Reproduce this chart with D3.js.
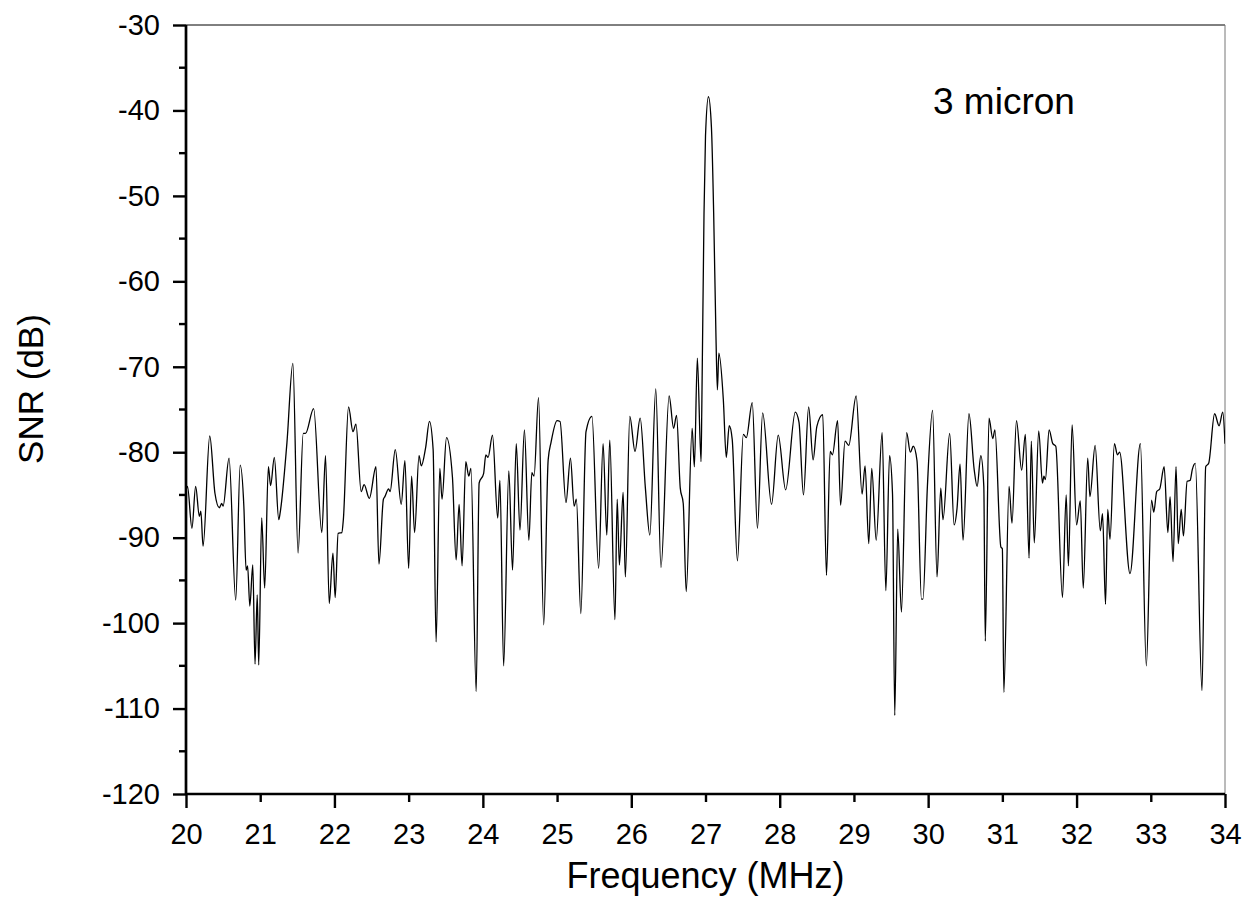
<!DOCTYPE html>
<html>
<head>
<meta charset="utf-8">
<script src="https://cdn.jsdelivr.net/npm/d3@7"></script>
<style>
  body { margin: 0; background: #fff; }
  svg { font-family: "Liberation Sans", Arial, sans-serif; }
</style>
</head>
<body>
<svg id="chart" width="1247" height="915"></svg>
<script>
// frequency (MHz) and SNR (dB)
const freq = [
  20.00, 20.02, 20.08, 20.13, 20.18, 20.20, 20.23, 20.32, 20.39, 20.45, 20.48, 20.50,
  20.58, 20.67, 20.73, 20.78, 20.81, 20.83, 20.86, 20.90, 20.93, 20.96, 20.98, 21.02,
  21.06, 21.11, 21.14, 21.19, 21.25, 21.27, 21.36, 21.44, 21.51, 21.58, 21.61, 21.72,
  21.83, 21.88, 21.93, 21.98, 22.01, 22.05, 22.10, 22.12, 22.19, 22.25, 22.29, 22.36,
  22.40, 22.47, 22.56, 22.60, 22.66, 22.68, 22.73, 22.75, 22.82, 22.90, 22.95, 23.00,
  23.04, 23.08, 23.14, 23.17, 23.23, 23.28, 23.33, 23.37, 23.42, 23.45, 23.51, 23.59,
  23.64, 23.68, 23.72, 23.77, 23.81, 23.84, 23.91, 23.95, 24.01, 24.04, 24.07, 24.13,
  24.20, 24.23, 24.28, 24.35, 24.40, 24.45, 24.50, 24.56, 24.62, 24.66, 24.69, 24.75,
  24.82, 24.88, 24.92, 25.00, 25.04, 25.12, 25.18, 25.23, 25.26, 25.32, 25.39, 25.47,
  25.56, 25.62, 25.67, 25.71, 25.78, 25.81, 25.84, 25.89, 25.92, 25.98, 26.05, 26.12,
  26.19, 26.25, 26.33, 26.40, 26.51, 26.57, 26.61, 26.66, 26.70, 26.74, 26.82, 26.85,
  26.89, 26.94, 26.95, 26.98, 27.00, 27.04, 27.08, 27.11, 27.14, 27.16, 27.18, 27.24,
  27.28, 27.32, 27.36, 27.43, 27.51, 27.55, 27.63, 27.70, 27.77, 27.89, 27.98, 28.08,
  28.21, 28.26, 28.32, 28.39, 28.45, 28.50, 28.58, 28.63, 28.68, 28.71, 28.78, 28.82,
  28.88, 28.93, 29.03, 29.11, 29.15, 29.20, 29.24, 29.30, 29.38, 29.43, 29.48, 29.52,
  29.55, 29.59, 29.64, 29.71, 29.76, 29.80, 29.85, 29.91, 29.93, 29.99, 30.06, 30.12,
  30.17, 30.20, 30.29, 30.35, 30.39, 30.43, 30.47, 30.55, 30.62, 30.66, 30.71, 30.75,
  30.77, 30.82, 30.87, 30.90, 30.98, 31.00, 31.02, 31.09, 31.13, 31.19, 31.26, 31.31,
  31.36, 31.39, 31.43, 31.49, 31.54, 31.56, 31.58, 31.63, 31.68, 31.72, 31.81, 31.86,
  31.89, 31.94, 32.00, 32.05, 32.09, 32.15, 32.18, 32.25, 32.32, 32.35, 32.39, 32.42,
  32.45, 32.51, 32.55, 32.58, 32.72, 32.86, 32.94, 33.01, 33.04, 33.08, 33.12, 33.18,
  33.23, 33.26, 33.30, 33.34, 33.37, 33.41, 33.44, 33.49, 33.53, 33.56, 33.60, 33.69,
  33.74, 33.78, 33.86, 33.92, 33.97, 34.00
];
const snr = [
  -84.5, -84.0, -88.9, -84.0, -87.5, -86.9, -91.0, -78.1, -84.8, -86.5, -86.0, -86.3,
  -80.7, -97.3, -81.5, -86.4, -93.8, -93.3, -98.0, -93.2, -104.8, -96.7, -104.9, -87.7,
  -95.9, -81.7, -83.9, -80.6, -87.9, -87.0, -78.9, -69.6, -91.8, -77.8, -77.8, -74.9,
  -89.4, -80.4, -97.7, -91.8, -97.0, -89.5, -89.4, -87.9, -74.7, -77.6, -76.7, -84.6,
  -83.8, -85.4, -81.7, -93.1, -85.5, -85.2, -84.3, -84.6, -79.7, -86.1, -81.0, -93.6,
  -82.8, -89.4, -80.4, -81.6, -79.4, -76.4, -79.7, -102.2, -81.9, -85.5, -78.3, -82.9,
  -92.6, -86.1, -93.3, -81.1, -82.8, -81.9, -108.0, -83.6, -82.5, -80.3, -80.6, -78.0,
  -87.7, -83.3, -105.0, -82.2, -93.8, -79.0, -89.1, -77.4, -90.3, -82.4, -82.8, -73.6,
  -100.2, -80.9, -78.8, -76.3, -76.4, -85.9, -80.7, -86.3, -85.5, -98.9, -77.6, -75.8,
  -93.6, -79.0, -89.7, -78.6, -99.6, -85.5, -93.2, -84.7, -94.6, -75.8, -79.9, -76.0,
  -84.2, -89.7, -72.6, -93.5, -73.4, -77.2, -75.7, -84.2, -86.0, -96.3, -77.2, -81.7,
  -69.0, -81.1, -75.0, -52.0, -43.0, -38.4, -42.0, -52.0, -66.0, -72.7, -68.4, -73.8,
  -80.6, -76.9, -78.5, -92.7, -77.9, -78.3, -74.2, -88.9, -75.4, -86.1, -78.0, -84.4,
  -75.3, -76.5, -85.0, -74.7, -80.9, -77.0, -75.6, -94.4, -79.9, -80.3, -76.3, -86.2,
  -78.7, -79.2, -73.4, -84.9, -81.6, -90.7, -81.9, -90.3, -77.7, -96.2, -80.4, -84.9,
  -110.8, -89.0, -98.7, -77.7, -80.0, -79.3, -81.0, -97.2, -97.2, -84.0, -75.1, -94.6,
  -84.2, -87.9, -77.8, -88.5, -86.5, -81.4, -90.3, -75.5, -82.0, -84.0, -80.4, -84.0,
  -102.1, -76.0, -78.4, -77.4, -91.1, -91.3, -108.1, -84.0, -88.3, -76.3, -82.1, -77.9,
  -92.4, -78.7, -90.6, -77.5, -83.6, -82.8, -83.2, -77.4, -79.0, -79.3, -97.0, -85.0,
  -93.3, -76.8, -88.5, -85.7, -95.9, -80.7, -85.2, -79.2, -89.2, -87.2, -97.8, -86.7,
  -90.2, -79.0, -80.3, -80.0, -94.2, -79.0, -105.0, -85.6, -87.0, -84.6, -84.3, -81.7,
  -89.4, -85.2, -92.8, -81.7, -90.7, -86.7, -89.8, -83.4, -83.3, -82.0, -81.3, -107.9,
  -81.7, -81.3, -75.5, -76.9, -75.3, -79.0
];
const xTicks = d3.range(20, 35, 1);
const yTicks = d3.range(-120, -29, 10);
const yMinor = d3.range(-115, -30, 10);
const label = "3 micron";

const svg = d3.select("#chart");
const margin = { top: 25, right: 22, bottom: 121, left: 186 };
const width = 1247 - margin.left - margin.right;
const height = 915 - margin.top - margin.bottom;

const x = d3.scaleLinear().domain([20, 34]).range([0, width]);
const y = d3.scaleLinear().domain([-120, -30]).range([height, 0]);

const g = svg.append("g").attr("transform", `translate(${margin.left},${margin.top})`);

g.append("clipPath").attr("id", "clip")
  .append("rect").attr("width", width).attr("height", height);

// frame top / right
g.append("line").attr("x1", 0).attr("x2", width).attr("y1", 0).attr("y2", 0)
  .attr("stroke", "#000").attr("stroke-width", 1);
g.append("line").attr("x1", width).attr("x2", width).attr("y1", 0).attr("y2", height)
  .attr("stroke", "#777").attr("stroke-width", 1);

// the trace
const line = d3.line()
  .x((d, i) => x(freq[i]))
  .y(d => y(d))
  .curve(d3.curveMonotoneX);

g.append("path")
  .datum(snr)
  .attr("clip-path", "url(#clip)")
  .attr("fill", "none")
  .attr("stroke", "#000")
  .attr("stroke-width", 1.3)
  .attr("d", line);

// x axis
const xAxis = g.append("g")
  .attr("transform", `translate(0,${height})`)
  .call(d3.axisBottom(x).tickValues(xTicks).tickSize(14).tickPadding(15).tickFormat(d => String(d)));
xAxis.selectAll(".tick line").attr("y2", d => d % 2 === 0 ? 14 : 8);

// y axis
const yAxis = g.append("g")
  .call(d3.axisLeft(y).tickValues(yTicks).tickSize(13).tickPadding(13).tickFormat(d => String(d)));
g.append("g").selectAll("line").data(yMinor).join("line")
  .attr("x1", -7).attr("x2", 0)
  .attr("y1", d => y(d)).attr("y2", d => y(d))
  .attr("stroke", "#000").attr("stroke-width", 2.4);

[xAxis, yAxis].forEach(a => {
  a.select(".domain").attr("stroke-width", 2.7);
  a.selectAll(".tick line").attr("stroke-width", 2.4);
  a.selectAll("text").attr("font-size", 29).attr("fill", "#000")
    .style("font-family", "'Liberation Sans', Arial, sans-serif");
});
xAxis.select(".domain").attr("d", `M0,0H${width}`);
yAxis.select(".domain").attr("d", `M0,${height}V0`);

// axis titles
svg.append("text")
  .attr("x", margin.left + width / 2).attr("y", 888)
  .attr("text-anchor", "middle").attr("font-size", 36)
  .text("Frequency (MHz)");
svg.append("text")
  .attr("transform", "translate(43,389) rotate(-90)")
  .attr("text-anchor", "middle").attr("font-size", 35)
  .text("SNR (dB)");

// annotation
svg.append("text")
  .attr("x", 933).attr("y", 114)
  .attr("font-size", 37)
  .text(label);
</script>
</body>
</html>
